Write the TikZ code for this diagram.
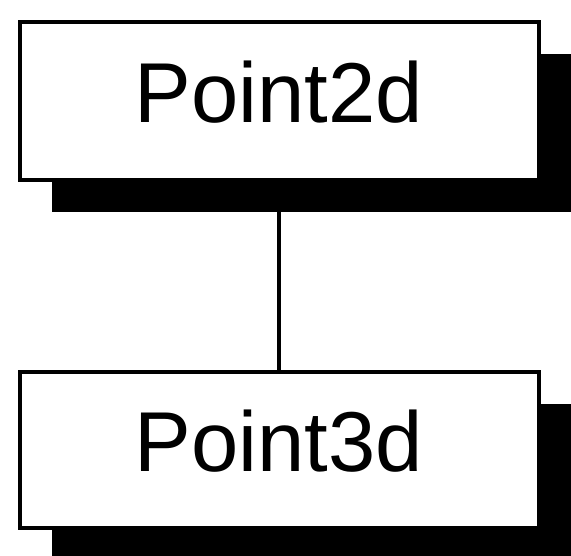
\documentclass[tikz,border=0pt]{standalone}
\usepackage{fontspec}
\setmainfont{Liberation Sans}
\usetikzlibrary{shadows}
\begin{document}
\begin{tikzpicture}[x=1pt,y=-1pt,
  classbox/.style={draw=black, line width=4pt, fill=white, rectangle,
    minimum width=519pt, inner sep=0pt,
    font=\fontsize{85}{100}\selectfont, text height=62pt, text depth=20pt,
    drop shadow={shadow xshift=32pt, shadow yshift=-32pt, fill=black, opacity=1}},
  link/.style={draw=black, line width=4pt}]
\useasboundingbox (0,0) rectangle (571,555);
\node[classbox, minimum height=158pt] (p2) at (279,101) {Point2d};
\node[classbox, minimum height=156pt] (p3) at (279,450) {Point3d};
\draw[link] (p2.south) -- (p2.south |- p3.north);
\end{tikzpicture}
\end{document}
